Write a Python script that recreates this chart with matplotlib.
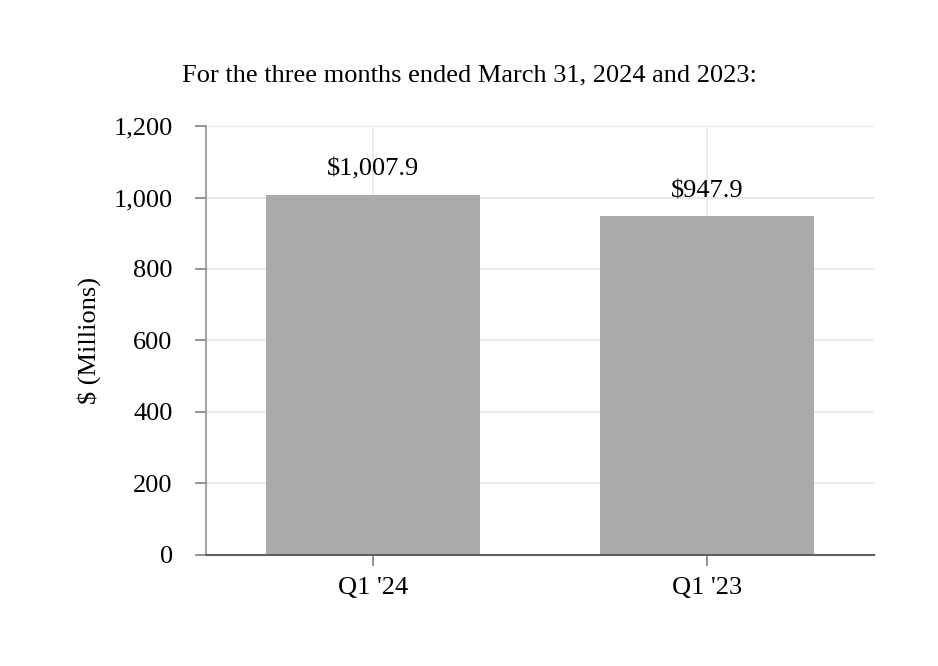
import matplotlib.pyplot as plt

# data
categories = ["Q1 '24", "Q1 '23"]
values = [1007.9, 947.9]
labels = ["$1,007.9", "$947.9"]
yticks = [0, 200, 400, 600, 800, 1000, 1200]

plt.rcParams['font.family'] = ['Liberation Serif', 'DejaVu Serif']

fig = plt.figure(figsize=(9.38, 6.66), dpi=100)
ax = fig.add_axes([0.2196, 0.1667, 0.9318 - 0.2196, 0.8108 - 0.1667])

x = range(len(categories))
bars = ax.bar(x, values, width=0.64, color='#ababab', zorder=2)

for b, lab in zip(bars, labels):
    ax.annotate(lab, (b.get_x() + b.get_width() / 2, b.get_height()),
                xytext=(0, 10), textcoords='offset points',
                ha='center', va='bottom', fontsize=19)

ax.set_xlim(-0.5, 1.5)
ax.set_ylim(0, 1200)
ax.set_yticks(yticks)
ax.set_yticklabels([f"{v:,}" for v in yticks])
ax.set_xticks(list(x))
ax.set_xticklabels(categories)
ax.tick_params(axis='both', labelsize=19, color='#808080', length=8, width=1.2)
ax.tick_params(axis='y', pad=16)
ax.tick_params(axis='x', pad=8)

ax.grid(True, color='#e6e6e6', linewidth=1.2, zorder=0)
ax.set_axisbelow(True)

for s in ['top', 'right']:
    ax.spines[s].set_visible(False)
ax.spines['left'].set_color('#909090')
ax.spines['bottom'].set_color('#606060')
ax.spines['left'].set_linewidth(1.2)
ax.spines['bottom'].set_linewidth(1.5)

ax.set_ylabel("$ (Millions)", fontsize=19, labelpad=9)
fig.text(0.5, 1 - 75 / 666, "For the three months ended March 31, 2024 and 2023:",
         fontsize=19, ha='center', va='center')

fig.savefig("out.png", dpi=100)
